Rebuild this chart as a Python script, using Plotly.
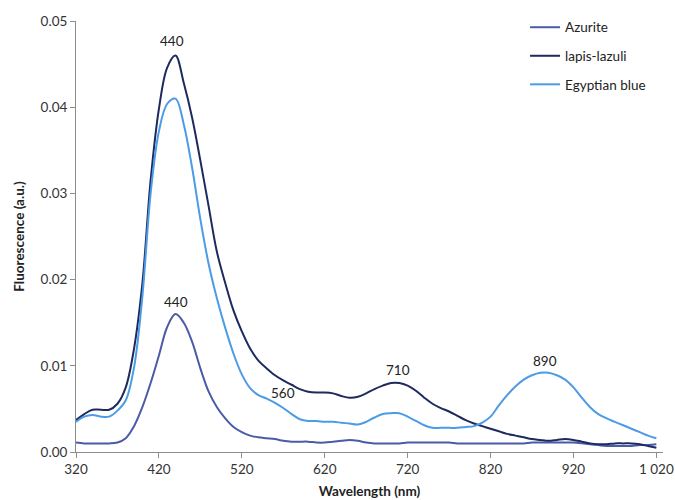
import plotly.graph_objects as go

# Emission wavelengths (nm), 10 nm steps
wavelength = list(range(320, 1030, 10))

azurite = [
    0.0011, 0.0010, 0.0010, 0.0010, 0.0010, 0.0011, 0.0016, 0.0030, 0.0052, 0.0080,
    0.0112, 0.0145, 0.0160, 0.0150, 0.0128, 0.0097, 0.0070, 0.0052, 0.0039, 0.0029,
    0.0023, 0.0019, 0.0017, 0.0016, 0.0015, 0.0013, 0.0012, 0.0012, 0.0012, 0.0011,
    0.0011, 0.0012, 0.0013, 0.0014, 0.0013, 0.0011, 0.0010, 0.0010, 0.0010, 0.0010,
    0.0011, 0.0011, 0.0011, 0.0011, 0.0011, 0.0011, 0.0010, 0.0010, 0.0010, 0.0010,
    0.0010, 0.0010, 0.0010, 0.0010, 0.0010, 0.0011, 0.0011, 0.0011, 0.0011, 0.0011,
    0.0011, 0.0010, 0.0009, 0.0008, 0.0007, 0.0007, 0.0007, 0.0007, 0.0008, 0.0008,
    0.0009,
]

lapis_lazuli = [
    0.0037, 0.0044, 0.0049, 0.0049, 0.0049, 0.0056, 0.0075, 0.0120, 0.0195, 0.0315,
    0.0398, 0.0446, 0.0460, 0.0428, 0.0388, 0.0338, 0.0285, 0.0232, 0.0196, 0.0164,
    0.0140, 0.0120, 0.0106, 0.0097, 0.0089, 0.0083, 0.0078, 0.0073, 0.0070, 0.0069,
    0.0069, 0.0068, 0.0065, 0.0063, 0.0064, 0.0068, 0.0073, 0.0077, 0.0080, 0.0080,
    0.0077, 0.0071, 0.0063, 0.0056, 0.0051, 0.0047, 0.0042, 0.0037, 0.0033, 0.0030,
    0.0027, 0.0024, 0.0021, 0.0019, 0.0017, 0.0015, 0.0014, 0.0013, 0.0014, 0.0015,
    0.0014, 0.0012, 0.0010, 0.0009, 0.0009, 0.0010, 0.0010, 0.0010, 0.0009, 0.0007,
    0.0005,
]

egyptian_blue = [
    0.0035, 0.0041, 0.0043, 0.0041, 0.0041, 0.0048, 0.0060, 0.0098, 0.0180, 0.0300,
    0.0372, 0.0404, 0.0410, 0.0380, 0.0330, 0.0270, 0.0218, 0.0178, 0.0144, 0.0114,
    0.0090, 0.0074, 0.0066, 0.0062, 0.0057, 0.0051, 0.0044, 0.0038, 0.0036, 0.0036,
    0.0035, 0.0035, 0.0034, 0.0033, 0.0032, 0.0035, 0.0040, 0.0044, 0.0045, 0.0045,
    0.0041, 0.0036, 0.0031, 0.0028, 0.0028, 0.0028, 0.0028, 0.0029, 0.0030, 0.0034,
    0.0041, 0.0054, 0.0066, 0.0076, 0.0084, 0.0089, 0.0092, 0.0092, 0.0089, 0.0084,
    0.0075, 0.0063, 0.0052, 0.0044, 0.0039, 0.0035, 0.0031, 0.0027, 0.0023, 0.0019,
    0.0016,
]

x_tick_vals = [320, 420, 520, 620, 720, 820, 920, 1020]
x_tick_text = ["320", "420", "520", "620", "720", "820", "920", "1 020"]
y_tick_vals = [0.0, 0.01, 0.02, 0.03, 0.04, 0.05]
y_tick_text = ["0.00", "0.01", "0.02", "0.03", "0.04", "0.05"]

# Peak labels: (text, x, y)
peak_labels = [
    ("440", 436, 0.0477),
    ("440", 441, 0.0174),
    ("560", 570, 0.0068),
    ("710", 708, 0.0095),
    ("890", 886, 0.0105),
]

series = [
    ("Azurite", azurite, "#4A5BA8"),
    ("lapis-lazuli", lapis_lazuli, "#1E2A5E"),
    ("Egyptian blue", egyptian_blue, "#4B9BE6"),
]

FONT = "Lato, 'Open Sans', sans-serif"
FS = 13.5

fig = go.Figure()
for i, (name, vals, color) in enumerate(series):
    fig.add_trace(go.Scatter(
        x=wavelength, y=vals, name=name, mode="lines",
        line=dict(color=color, width=2, shape="spline", smoothing=1.0),
        legendgroup=f"g{i}",
    ))

for text, x, y in peak_labels:
    fig.add_annotation(x=x, y=y, text=text, showarrow=False,
                       font=dict(family=FONT, size=FS, color="#222"))

axis_common = dict(
    showgrid=False, zeroline=False, showline=True, linecolor="#8c8c8c",
    linewidth=1, ticks="outside", tickcolor="#8c8c8c", ticklen=5,
    tickfont=dict(family=FONT, size=FS, color="#333"),
    automargin=False,
)

fig.update_layout(
    width=675, height=500,
    margin=dict(l=76, r=12, t=17, b=48),
    paper_bgcolor="white", plot_bgcolor="white",
    font=dict(family=FONT, size=FS, color="#333"),
    xaxis=dict(
        range=[320, 1028], tickvals=x_tick_vals, ticktext=x_tick_text,
        title=dict(text="<b>Wavelength (nm)</b>", standoff=10,
                   font=dict(family=FONT, size=FS, color="#222")),
        **axis_common,
    ),
    yaxis=dict(
        range=[0, 0.05], tickvals=y_tick_vals, ticktext=y_tick_text,
        title=dict(text="<b>Fluorescence (a.u.)</b>", standoff=12,
                   font=dict(family=FONT, size=FS, color="#222")),
        **axis_common,
    ),
    legend=dict(
        x=0.765, y=1.021, xanchor="left", yanchor="top",
        bgcolor="rgba(0,0,0,0)", tracegroupgap=8,
        font=dict(family=FONT, size=FS, color="#222"),
    ),
    showlegend=True,
)

fig.write_html("out.html")
